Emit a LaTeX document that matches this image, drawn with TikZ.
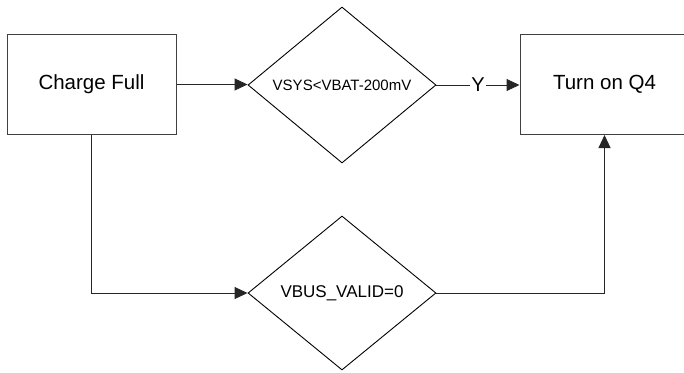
\documentclass[tikz,border=0pt]{standalone}
\usepackage{fontspec}
\setmainfont{Liberation Sans}
\usetikzlibrary{shapes.geometric,arrows.meta}
\begin{document}
\begin{tikzpicture}[x=1pt,y=-1pt,
  boxnode/.style={draw=black!75,line width=1pt,minimum width=169pt,minimum height=100pt,inner sep=0pt,font=\fontsize{20.5}{24}\selectfont},
  decision/.style={draw=black,line width=0.9pt,shape=diamond,minimum width=188pt,minimum height=156pt,inner sep=0pt},
  conn/.style={draw=black!85,line width=1pt,-{Triangle[length=13pt,width=12pt]}},
  plain/.style={draw=black!85,line width=1pt}]
\useasboundingbox (0,0) rectangle (684,372);
\node[boxnode] (cf) at (91.5,84.5) {Charge Full};
\node[decision,font=\fontsize{15}{18}\selectfont] (d1) at (342,85) {VSYS<VBAT-200mV};
\node[boxnode] (q4) at (604.5,84.5) {Turn on Q4};
\node[decision,minimum height=154pt,font=\fontsize{17}{20}\selectfont] (d2) at (342,293) {VBUS\_VALID=0};
\draw[conn] (cf.east) -- (cf.east -| d1.west);
\draw[conn] (d1.east) -- node[fill=white,inner sep=1pt,font=\fontsize{20}{22}\selectfont]{Y} (d1.east -| q4.west);
\draw[conn] (cf.south) |- (d2.west);
\draw[conn] (d2.east) -| (q4.south);
\end{tikzpicture}
\end{document}
